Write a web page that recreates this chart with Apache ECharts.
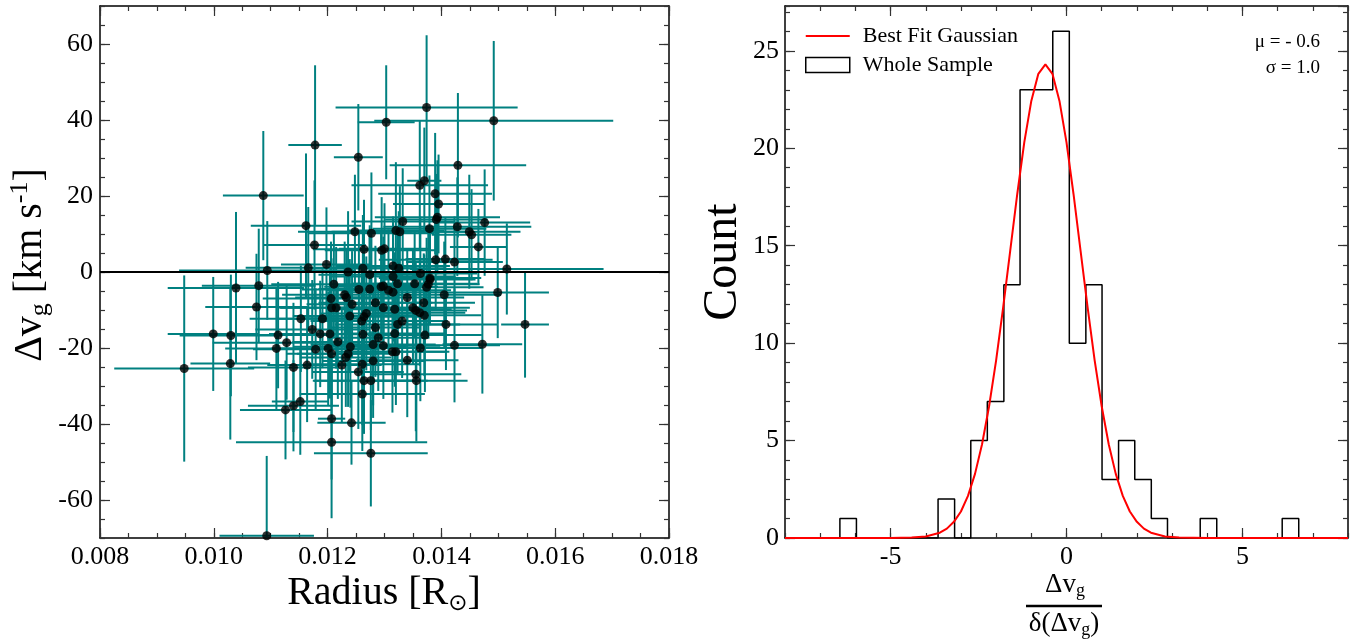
<!DOCTYPE html>
<html>
<head>
<meta charset="utf-8">
<title>Radius vs velocity offset</title>
<script src="https://cdn.jsdelivr.net/npm/echarts@6/dist/echarts.min.js"></script>
<style>
  html, body { margin: 0; padding: 0; background: #fff; }
  #chart { width: 1367px; height: 639px; }
</style>
</head>
<body>
<div id="chart"></div>
<script>
  // left panel: radius [Rsun], delta v_g [km/s] and their errors
  var radius = [
    0.01087, 0.01178, 0.01254, 0.01303, 0.01374, 0.01492, 0.01429, 0.01362, 0.01370, 0.01389,
    0.01395, 0.01393, 0.01391, 0.01162, 0.01177, 0.01248, 0.01277, 0.01332, 0.01320, 0.01327,
    0.01379, 0.01428, 0.01449, 0.01453, 0.01476, 0.01465, 0.01264, 0.01295, 0.01300, 0.01390,
    0.01407, 0.01423, 0.01198, 0.01166, 0.01094, 0.01262, 0.01315, 0.01325, 0.01515, 0.01236,
    0.01274, 0.01315, 0.01363, 0.01380, 0.01039, 0.01079, 0.01075, 0.00999, 0.01030, 0.00948,
    0.01029, 0.01110, 0.01113, 0.01128, 0.01140, 0.01153, 0.01164, 0.01173, 0.01179, 0.01187,
    0.01191, 0.01201, 0.01204, 0.01207, 0.01206, 0.01211, 0.01207, 0.01215, 0.01218, 0.01230,
    0.01233, 0.01239, 0.01243, 0.01240, 0.01236, 0.01232, 0.01225, 0.01255, 0.01260, 0.01264,
    0.01268, 0.01262, 0.01261, 0.01254, 0.01264, 0.01276, 0.01261, 0.01274, 0.01284, 0.01284,
    0.01289, 0.01280, 0.01280, 0.01294, 0.01298, 0.01298, 0.01298, 0.01307, 0.01315, 0.01323,
    0.01318, 0.01318, 0.01323, 0.01331, 0.01314, 0.01320, 0.01340, 0.01340, 0.01353, 0.01350,
    0.01355, 0.01362, 0.01370, 0.01369, 0.01371, 0.01363, 0.01355, 0.01356, 0.01374, 0.01377,
    0.01380, 0.01405, 0.01408, 0.01423, 0.01472, 0.01499, 0.01547, 0.01126, 0.01140, 0.01152,
    0.01207, 0.01242, 0.01207, 0.01276, 0.01093
  ];
  var deltaV = [
    20.1, 33.4, 30.2, 39.4, 43.3, 39.8, 28.1, 22.8, 24.0, 20.6,
    17.9, 14.4, 13.8, 12.2, 7.1, 10.6, 10.2, 13.3, 10.9, 10.6,
    11.4, 11.9, 10.6, 9.8, 13.0, 6.6, 6.0, 5.7, 6.1, 3.2,
    3.4, 2.6, 2.0, 1.1, 0.4, 1.0, 1.6, 1.0, 0.8, 0.0,
    -0.7, -1.2, -0.4, -1.6, -4.2, -3.6, -9.2, -16.3, -16.7, -25.4,
    -24.1, -20.1, -16.6, -18.6, -25.1, -12.3, -24.5, -15.1, -20.3, -16.3,
    -12.3, -20.1, -16.3, -21.5, -7.0, -3.2, -9.4, -9.4, -18.4, -6.0,
    -6.7, -11.6, -8.5, -19.7, -21.5, -22.5, -24.5, -4.6, -12.9, -11.8,
    -10.9, -16.4, -24.3, -26.3, -28.6, -28.6, -32.1, -4.5, -8.1, -14.6,
    -17.3, -19.1, -23.4, -3.9, -3.7, -9.4, -19.4, -4.8, -5.3, -3.1,
    -9.8, -16.2, -13.8, -12.9, -21.0, -21.0, -6.7, -23.2, -3.1, -9.4,
    -10.1, -10.7, -11.4, -8.1, -16.6, -20.0, -26.9, -28.6, -4.0, -3.2,
    -2.0, -6.0, -13.8, -19.3, -19.0, -5.4, -13.8, -36.3, -35.2, -34.1,
    -38.6, -39.7, -44.8, -47.7, -69.4
  ];
  var radiusErr = [
    0.00071, 0.00047, 0.00043, 0.00050, 0.00160, 0.00210, 0.00120, 0.00120, 0.00030, 0.00100,
    0.00080, 0.00110, 0.00090, 0.00097, 0.00090, 0.00100, 0.00110, 0.00090, 0.00085, 0.00120,
    0.00100, 0.00130, 0.00090, 0.00070, 0.00080, 0.00050, 0.00090, 0.00100, 0.00080, 0.00100,
    0.00070, 0.00085, 0.00080, 0.00110, 0.00155, 0.00090, 0.00100, 0.00080, 0.00170, 0.00100,
    0.00090, 0.00110, 0.00100, 0.00090, 0.00120, 0.00100, 0.00090, 0.00080, 0.00090, 0.00123,
    0.00070, 0.00090, 0.00100, 0.00130, 0.00080, 0.00090, 0.00070, 0.00100, 0.00110, 0.00090,
    0.00080, 0.00100, 0.00090, 0.00080, 0.00120, 0.00110, 0.00090, 0.00100, 0.00080, 0.00110,
    0.00090, 0.00100, 0.00080, 0.00100, 0.00090, 0.00080, 0.00070, 0.00100, 0.00090, 0.00110,
    0.00080, 0.00090, 0.00100, 0.00080, 0.00090, 0.00100, 0.00110, 0.00090, 0.00100, 0.00080,
    0.00090, 0.00110, 0.00090, 0.00100, 0.00080, 0.00090, 0.00100, 0.00110, 0.00090, 0.00080,
    0.00100, 0.00090, 0.00110, 0.00080, 0.00100, 0.00090, 0.00100, 0.00090, 0.00110, 0.00100,
    0.00090, 0.00080, 0.00100, 0.00090, 0.00100, 0.00110, 0.00080, 0.00090, 0.00100, 0.00090,
    0.00080, 0.00100, 0.00090, 0.00080, 0.00070, 0.00090, 0.00042, 0.00080, 0.00080, 0.00050,
    0.00024, 0.00060, 0.00168, 0.00100, 0.00083
  ];
  var deltaVErr = [
    17, 21, 14, 15, 19, 21, 19, 17, 14, 16,
    13, 15, 12, 19, 17, 15, 16, 14, 18, 12,
    14, 13, 15, 12, 14, 10, 13, 14, 12, 13,
    11, 12, 15, 16, 13, 14, 13, 15, 12, 16,
    13, 14, 15, 12, 20, 15, 14, 15, 16, 24.5,
    20, 16, 14, 15, 17, 14, 15, 13, 16, 14,
    13, 15, 17, 14, 15, 14, 13, 16, 15, 14,
    13, 15, 14, 16, 14, 13, 15, 15, 14, 13,
    15, 14, 16, 15, 14, 13, 15, 14, 15, 13,
    14, 16, 15, 14, 13, 15, 14, 16, 13, 14,
    15, 14, 13, 15, 16, 14, 13, 15, 14, 15,
    13, 14, 16, 13, 15, 14, 15, 16, 13, 14,
    12, 14, 12, 15, 13, 12, 14, 13, 12, 14,
    16, 11, 20, 14, 21
  ];

  // right panel: histogram of normalised offsets
  var binEdges = [
    -6.44, -5.97, -5.51, -5.04, -4.58, -4.11, -3.65, -3.18, -2.72, -2.25,
    -1.78, -1.32, -0.85, -0.39, 0.08, 0.55, 1.01, 1.48, 1.94, 2.41,
    2.87, 3.34, 3.80, 4.27, 4.74, 5.20, 5.67, 6.13, 6.60
  ];
  var binCounts = [1, 0, 0, 0, 0, 0, 2, 0, 5, 7, 13, 23, 23, 26, 10, 13, 3, 5, 3, 1, 0, 0, 1, 0, 0, 0, 0, 1];

  // best fit gaussian
  var gaussX = [-8, -5, -4.4, -4.0, -3.6, -3.4, -3.2, -3.0, -2.8, -2.6, -2.4, -2.2, -2.0, -1.8, -1.6,
    -1.4, -1.2, -1.0, -0.8, -0.6, -0.4, -0.2, 0.0, 0.2, 0.4, 0.6, 0.8, 1.0, 1.2, 1.4,
    1.6, 1.8, 2.0, 2.2, 2.4, 2.8, 3.2, 4, 8];
  var gaussY = [0, 0, 0.02, 0.08, 0.27, 0.48, 0.83, 1.36, 2.16, 3.29, 4.81, 6.76, 9.12, 11.83, 14.74,
    17.64, 20.30, 22.43, 23.82, 24.3, 23.82, 22.43, 20.30, 17.64, 14.74, 11.83, 9.12, 6.76, 4.81, 3.29,
    2.16, 1.36, 0.83, 0.48, 0.27, 0.08, 0.02, 0, 0];

  // tick labels
  var dvTicks = [-60, -40, -20, 0, 20, 40, 60];
  var ratioTicks = [-5, 0, 5];

  var serif = 'Liberation Serif';

  var pts = [];
  for (var i = 0; i < radius.length; i++) {
    pts.push([radius[i], deltaV[i], radiusErr[i], deltaVErr[i]]);
  }

  var hist = [[binEdges[0], 0]];
  for (var j = 0; j < binCounts.length; j++) {
    hist.push([binEdges[j], binCounts[j]]);
    hist.push([binEdges[j + 1], binCounts[j]]);
  }
  hist.push([binEdges[binEdges.length - 1], 0]);

  var gauss = gaussX.map(function (x, k) { return [x, gaussY[k]]; });

  function axis(grid, pos, min, max, extra) {
    var a = {
      type: 'value', gridIndex: grid, position: pos, min: min, max: max,
      axisLine: { show: true, onZero: false, lineStyle: { color: '#000', width: 1.5 } },
      axisTick: { show: true, inside: true, length: 10, lineStyle: { color: '#333', width: 1.2 } },
      axisLabel: { show: false },
      splitLine: { show: false }
    };
    for (var k in extra) a[k] = extra[k];
    return a;
  }
  function minor(grid, pos, min, max, step) {
    return axis(grid, pos, min, max, {
      interval: step,
      axisLine: { show: false, onZero: false },
      axisTick: { show: true, inside: true, length: 5, lineStyle: { color: '#333', width: 1.2 } }
    });
  }
  function labels(fmt, margin, custom) {
    var l = { show: true, fontFamily: serif, fontSize: 26, color: '#000', margin: margin, showMaxLabel: true };
    if (fmt) l.formatter = fmt;
    if (custom) l.customValues = custom;
    return l;
  }
  var majorTick = function (custom) {
    var t = { show: true, inside: true, length: 10, lineStyle: { color: '#333', width: 1.2 } };
    if (custom) t.customValues = custom;
    return t;
  };

  var countLabels = labels(null, 6);
  countLabels.showMaxLabel = false;

  var chart = echarts.init(document.getElementById('chart'));
  chart.setOption({
    animation: false,
    backgroundColor: '#fff',
    grid: [
      { left: 100, top: 6, width: 569, height: 532 },
      { left: 785, top: 6, width: 563, height: 532 }
    ],
    xAxis: [
      axis(0, 'bottom', 0.008, 0.018, { interval: 0.002, axisLabel: labels(function (v) { return v.toFixed(3); }, 6) }),
      axis(0, 'top', 0.008, 0.018, { interval: 0.002 }),
      minor(0, 'bottom', 0.008, 0.018, 0.0005),
      minor(0, 'top', 0.008, 0.018, 0.0005),
      axis(1, 'bottom', -8, 8, { axisTick: majorTick(ratioTicks), axisLabel: labels(null, 6, ratioTicks) }),
      axis(1, 'top', -8, 8, { axisTick: majorTick(ratioTicks) }),
      minor(1, 'bottom', -8, 8, 1),
      minor(1, 'top', -8, 8, 1)
    ],
    yAxis: [
      axis(0, 'left', -70, 70, { axisTick: majorTick(dvTicks), axisLabel: labels(null, 7, dvTicks) }),
      axis(0, 'right', -70, 70, { axisTick: majorTick(dvTicks) }),
      minor(0, 'left', -70, 70, 5),
      minor(0, 'right', -70, 70, 5),
      axis(1, 'left', 0, 27.3, { interval: 5, axisLabel: countLabels }),
      axis(1, 'right', 0, 27.3, { interval: 5 }),
      minor(1, 'left', 0, 27.3, 1),
      minor(1, 'right', 0, 27.3, 1)
    ],
    legend: {
      left: 800, top: 20, orient: 'vertical', itemWidth: 44, itemHeight: 15, itemGap: 7,
      symbolKeepAspect: true,
      textStyle: { fontFamily: serif, fontSize: 22, color: '#000', padding: [0, 0, 0, 8] },
      data: [
        { name: 'Best Fit Gaussian', icon: 'path://M0,0 L44,0 L44,2 L0,2 Z', itemStyle: { color: '#f00' } },
        { name: 'Whole Sample', icon: 'rect', itemStyle: { color: 'transparent', borderColor: '#000', borderWidth: 1.5 } }
      ]
    },
    series: [
      {
        type: 'custom', name: 'errors', xAxisIndex: 0, yAxisIndex: 0, clip: true,
        data: pts, encode: { x: 0, y: 1 },
        renderItem: function (params, api) {
          var x = api.value(0), y = api.value(1), xe = api.value(2), ye = api.value(3);
          var l = api.coord([x - xe, y]), r = api.coord([x + xe, y]);
          var t = api.coord([x, y + ye]), b = api.coord([x, y - ye]);
          var st = { stroke: '#008080', lineWidth: 2 };
          return {
            type: 'group',
            children: [
              { type: 'line', shape: { x1: l[0], y1: l[1], x2: r[0], y2: r[1] }, style: st },
              { type: 'line', shape: { x1: t[0], y1: t[1], x2: b[0], y2: b[1] }, style: st }
            ]
          };
        }
      },
      {
        type: 'line', name: 'zero', xAxisIndex: 0, yAxisIndex: 0, symbol: 'none',
        data: [[0.008, 0], [0.018, 0]], lineStyle: { color: '#000', width: 2 }, z: 3
      },
      {
        type: 'scatter', name: 'points', xAxisIndex: 0, yAxisIndex: 0, symbolSize: 9,
        data: pts.map(function (p) { return [p[0], p[1]]; }), itemStyle: { color: '#000' }, z: 4
      },
      {
        type: 'line', name: 'Whole Sample', xAxisIndex: 4, yAxisIndex: 4, symbol: 'none',
        data: hist, lineStyle: { color: '#000', width: 1.5 }, itemStyle: { color: '#000' }
      },
      {
        type: 'line', name: 'Best Fit Gaussian', xAxisIndex: 4, yAxisIndex: 4, symbol: 'none',
        data: gauss, lineStyle: { color: '#f00', width: 2 }, itemStyle: { color: '#f00' }, z: 3
      }
    ],
    graphic: [
      {
        type: 'text', x: 30, y: 265, rotation: Math.PI / 2,
        style: {
          text: '{m|Δv}{s|g}{m| [km s}{p|-1}{m|]}',
          fontFamily: serif, align: 'center', verticalAlign: 'middle',
          rich: {
            m: { fontFamily: serif, fontSize: 40, lineHeight: 46, fill: '#000' },
            s: { fontFamily: serif, fontSize: 26, lineHeight: 25, verticalAlign: 'bottom', fill: '#000' },
            p: { fontFamily: serif, fontSize: 26, lineHeight: 26, verticalAlign: 'top', fill: '#000' }
          }
        }
      },
      {
        type: 'text', x: 384, y: 593,
        style: {
          text: '{m|Radius [R}{s|⊙}{m|]}',
          align: 'center', verticalAlign: 'middle',
          rich: {
            m: { fontFamily: serif, fontSize: 40, lineHeight: 46, fill: '#000' },
            s: { fontFamily: 'DejaVu Sans', fontSize: 23, lineHeight: 22, verticalAlign: 'bottom', fill: '#000' }
          }
        }
      },
      {
        type: 'text', x: 723, y: 262, rotation: Math.PI / 2,
        style: { text: 'Count', fontFamily: serif, fontSize: 48, fill: '#000', align: 'center', verticalAlign: 'middle' }
      },
      {
        type: 'text', x: 1065, y: 585,
        style: {
          text: '{m|Δv}{s|g}', align: 'center', verticalAlign: 'middle',
          rich: {
            m: { fontFamily: serif, fontSize: 27, lineHeight: 30, fill: '#000' },
            s: { fontFamily: serif, fontSize: 18, lineHeight: 17, verticalAlign: 'bottom', fill: '#000' }
          }
        }
      },
      { type: 'line', shape: { x1: 1026, y1: 606, x2: 1102, y2: 606 }, style: { stroke: '#000', lineWidth: 2.5 } },
      {
        type: 'text', x: 1064, y: 624,
        style: {
          text: '{m|δ(Δv}{s|g}{m|)}', align: 'center', verticalAlign: 'middle',
          rich: {
            m: { fontFamily: serif, fontSize: 27, lineHeight: 30, fill: '#000' },
            s: { fontFamily: serif, fontSize: 18, lineHeight: 17, verticalAlign: 'bottom', fill: '#000' }
          }
        }
      },
      {
        type: 'text', x: 1320, y: 42,
        style: { text: 'μ = - 0.6', fontFamily: serif, fontSize: 19, fill: '#000', align: 'right', verticalAlign: 'middle' }
      },
      {
        type: 'text', x: 1320, y: 68,
        style: { text: 'σ = 1.0', fontFamily: serif, fontSize: 19, fill: '#000', align: 'right', verticalAlign: 'middle' }
      }
    ]
  });
</script>
</body>
</html>
